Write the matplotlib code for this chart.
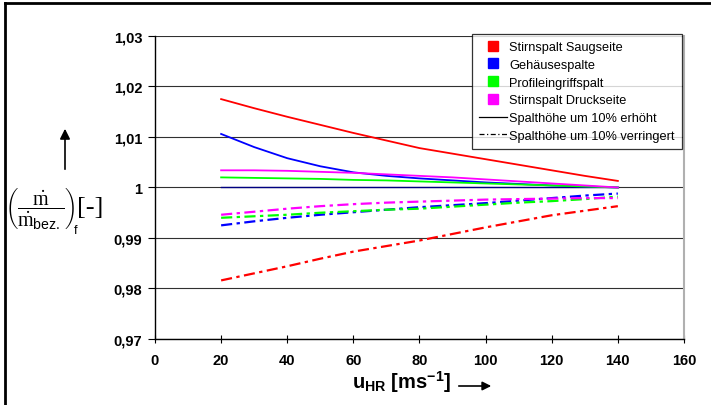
import matplotlib
matplotlib.use("Agg")
import matplotlib.pyplot as plt
from matplotlib.lines import Line2D
from matplotlib.patches import FancyArrowPatch
from matplotlib.ticker import FuncFormatter, MultipleLocator

plt.rcParams["font.family"] = ["Liberation Sans", "DejaVu Sans"]
plt.rcParams["mathtext.fontset"] = "custom"
plt.rcParams["mathtext.rm"] = "Liberation Serif"
plt.rcParams["mathtext.it"] = "Liberation Serif:italic"
plt.rcParams["mathtext.bf"] = "Liberation Sans:bold"
plt.rcParams["mathtext.sf"] = "Liberation Sans"

# circumferential speed u_HR [m/s]
u_hr = [20, 30, 40, 50, 60, 70, 80, 90, 100, 110, 120, 130, 140]

# gap height +10 % (solid lines)
saug_plus = [1.0175, 1.0157, 1.0140, 1.0124, 1.0108, 1.0093, 1.0078, 1.0067, 1.0056, 1.0045, 1.0034, 1.0023, 1.0013]
gehaeuse_plus = [1.0106, 1.0080, 1.0058, 1.0042, 1.0030, 1.0023, 1.0018, 1.0014, 1.0010, 1.0007, 1.0004, 1.0002, 1.0000]
profil_plus = [1.0020, 1.0019, 1.0018, 1.0017, 1.0015, 1.0014, 1.0012, 1.0010, 1.0008, 1.0006, 1.0004, 1.0002, 1.0000]
druck_plus = [1.0034, 1.0034, 1.0033, 1.0031, 1.0029, 1.0026, 1.0023, 1.0020, 1.0016, 1.0012, 1.0008, 1.0004, 1.0000]

# gap height -10 % (dash-dot lines)
saug_minus = [0.9816, 0.9830, 0.9844, 0.9859, 0.9873, 0.9884, 0.9895, 0.9908, 0.9921, 0.9933, 0.9945, 0.9954, 0.9963]
gehaeuse_minus = [0.9925, 0.9933, 0.9940, 0.9946, 0.9951, 0.9956, 0.9961, 0.9965, 0.9969, 0.9974, 0.9979, 0.9984, 0.9988]
profil_minus = [0.9940, 0.9943, 0.9946, 0.9950, 0.9953, 0.9956, 0.9958, 0.9962, 0.9966, 0.9970, 0.9973, 0.9977, 0.9982]
druck_minus = [0.9946, 0.9952, 0.9958, 0.9963, 0.9967, 0.9970, 0.9972, 0.9974, 0.9976, 0.9977, 0.9978, 0.9979, 0.9979]

reference = [1.0] * len(u_hr)

names = ["Stirnspalt Saugseite", "Gehäusespalte", "Profileingriffspalt", "Stirnspalt Druckseite"]
colors = ["#ff0000", "#0000ff", "#00ff00", "#ff00ff"]
plus = [saug_plus, gehaeuse_plus, profil_plus, druck_plus]
minus = [saug_minus, gehaeuse_minus, profil_minus, druck_minus]

fig = plt.figure(figsize=(7.11, 4.06), dpi=100)
ax = fig.add_axes([0.218, 0.1626, 0.744, 0.7463])

ax.set_xlim(0, 160)
ax.set_ylim(0.97, 1.03)
ax.yaxis.set_major_locator(MultipleLocator(0.01))
ax.xaxis.set_major_locator(MultipleLocator(20))
ax.yaxis.set_major_formatter(FuncFormatter(lambda v, p: ("%g" % round(v, 3)).replace(".", ",")))
ax.grid(True, axis="y", color="#303030", linewidth=0.8)
ax.set_axisbelow(True)

ax.spines["top"].set_visible(False)
ax.spines["right"].set_color("#b0b0b0")
ax.spines["right"].set_linewidth(1.5)
ax.spines["left"].set_linewidth(1.0)
ax.spines["bottom"].set_linewidth(1.0)

ax.tick_params(axis="y", direction="out", length=5, width=0.8, pad=4, labelsize=10.5)
ax.tick_params(axis="x", direction="inout", length=6, width=0.8, pad=7, labelsize=10.5)
for lab in ax.get_xticklabels() + ax.get_yticklabels():
    lab.set_fontweight("bold")

ax.plot(u_hr, reference, color="#000080", linewidth=1.0)
for vals, col in zip(plus, colors):
    ax.plot(u_hr, vals, color=col, linewidth=1.3)
for vals, col in zip(minus, colors):
    ax.plot(u_hr, vals, color=col, linewidth=1.6, linestyle=(0, (5, 2, 1.5, 2)))

handles = [Line2D([], [], marker="s", linestyle="none", color=c, markersize=6.5) for c in colors]
handles.append(Line2D([], [], color="black", linewidth=0.9))
handles.append(Line2D([], [], color="black", linewidth=0.9, linestyle=(0, (4, 2, 1, 2))))
labels = names + ["Spalthöhe um 10% erhöht", "Spalthöhe um 10% verringert"]
leg = fig.legend(handles, labels, loc="upper right", bbox_to_anchor=(682 / 711, 1 - 35 / 406),
                 fontsize=9.2, frameon=True, fancybox=False, edgecolor="black",
                 handlelength=2.2, handletextpad=0.2, labelspacing=0.45, borderpad=0.55,
                 borderaxespad=0)
leg.get_frame().set_linewidth(0.9)

# x axis label with arrow
fig.text(402 / 711, 1 - 382 / 406, r"$\mathbf{u_{HR}}$ [ms$^{\mathbf{-1}}$]", fontsize=14.5,
         fontweight="bold", ha="center", va="center")
fig.add_artist(FancyArrowPatch((456 / 711, 1 - 387 / 406), (494 / 711, 1 - 387 / 406),
                               transform=fig.transFigure, arrowstyle="-|>",
                               mutation_scale=13, color="black", linewidth=1.2))

# y axis label with arrow
fig.text(40 / 711, 1 - 209 / 406,
         r"$\left(\dfrac{\mathrm{\dot{m}}}{\mathrm{\dot{m}}_{\mathsf{bez.}}}\right)$",
         fontsize=14.5, ha="center", va="center")
fig.text(76 / 711, 1 - 231 / 406, "f", fontsize=9, ha="center", va="center")
fig.text(90 / 711, 1 - 208 / 406, "[-]", family="Liberation Serif", fontsize=19,
         ha="center", va="center")
fig.add_artist(FancyArrowPatch((65 / 711, 1 - 173 / 406), (65 / 711, 1 - 127 / 406),
                               transform=fig.transFigure, arrowstyle="-|>",
                               mutation_scale=15, color="black", linewidth=1.2))

# outer frame (top and left visible)
fig.add_artist(Line2D([5 / 711, 1], [1 - 4 / 406, 1 - 4 / 406], transform=fig.transFigure,
                      color="black", linewidth=2))
fig.add_artist(Line2D([5 / 711, 5 / 711], [0, 1 - 4 / 406], transform=fig.transFigure,
                      color="black", linewidth=2))

fig.savefig("out.png", dpi=100)
